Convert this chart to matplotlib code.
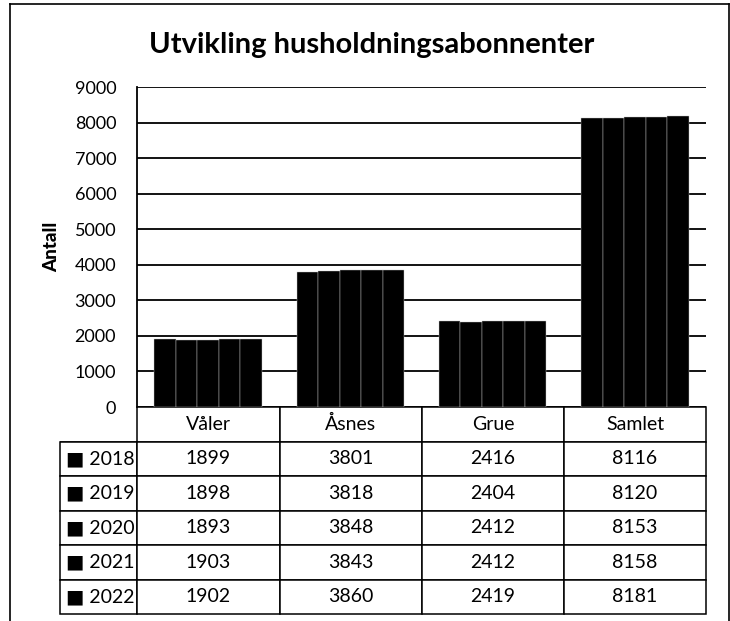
import numpy as np
import matplotlib.pyplot as plt
from matplotlib.lines import Line2D
from matplotlib.table import Table

plt.rcParams['font.family'] = ['Lato', 'DejaVu Sans']

kommuner = ['Våler', 'Åsnes', 'Grue', 'Samlet']
aar = ['2018', '2019', '2020', '2021', '2022']
v2018 = [1899, 3801, 2416, 8116]
v2019 = [1898, 3818, 2404, 8120]
v2020 = [1893, 3848, 2412, 8153]
v2021 = [1903, 3843, 2412, 8158]
v2022 = [1902, 3860, 2419, 8181]
serier = [v2018, v2019, v2020, v2021, v2022]

W, H = 730, 621
fig = plt.figure(figsize=(W / 100, H / 100), dpi=100)

# plot area in pixels: x 137..706, y 87..407
x0, x1, ytop, ybot = 137, 706, 87, 407
ax = fig.add_axes([x0 / W, 1 - ybot / H, (x1 - x0) / W, (ybot - ytop) / H])

x = np.arange(len(kommuner))
bw = 0.151
for i, vals in enumerate(serier):
    ax.bar(x + (i - 2) * bw, vals, width=bw, color='black',
           edgecolor='#c8c8c8', linewidth=0.3)

ax.set_xlim(-0.5, len(kommuner) - 0.5)
ax.set_ylim(0, 9000)
ax.set_yticks(range(0, 9001, 1000))
ax.yaxis.grid(True, color='black', linewidth=1.3)
ax.set_axisbelow(True)
ax.tick_params(axis='y', length=0, pad=15, labelsize=13)
ax.set_xticks([])
for s in ['top', 'right', 'bottom']:
    ax.spines[s].set_visible(False)
ax.spines['left'].set_linewidth(1.3)
ax.set_ylabel('Antall', fontsize=13.5, fontweight='black', labelpad=10)

# data table under the bars
col_w = [77, 143, 142, 142, 142]
tab_left, tab_bot = 60, 614
tbl = Table(ax, bbox=[(tab_left - x0) / (x1 - x0), -(tab_bot - ybot) / (ybot - ytop),
                      (x1 - tab_left) / (x1 - x0), (tab_bot - ybot) / (ybot - ytop)])
corner = tbl.add_cell(0, 0, col_w[0], 1, text='')
corner.visible_edges = 'B'
for j, k in enumerate(kommuner):
    tbl.add_cell(0, j + 1, col_w[j + 1], 1, text=k, loc='center')
for i, (a, vals) in enumerate(zip(aar, serier)):
    tbl.add_cell(i + 1, 0, col_w[0], 1, text='\u25a0 ' + a, loc='left')
    for j, v in enumerate(vals):
        tbl.add_cell(i + 1, j + 1, col_w[j + 1], 1, text=str(v), loc='center')
tbl.auto_set_font_size(False)
tbl.set_fontsize(14)
for cell in tbl.get_celld().values():
    cell.set_linewidth(1.1)
    cell.set_edgecolor('black')
    cell.PAD = 0.08
ax.add_table(tbl)

fig.suptitle('Utvikling husholdningsabonnenter', x=372 / W, y=1 - 45 / H,
             va='center', fontsize=21, fontweight='bold')

# outer frame
frame = dict(transform=fig.transFigure, color='black', linewidth=1.2)
fig.add_artist(Line2D([10 / W, 10 / W], [0, 1 - 4 / H], **frame))
fig.add_artist(Line2D([10 / W, 729 / W], [1 - 4 / H, 1 - 4 / H], **frame))
fig.add_artist(Line2D([729 / W, 729 / W], [0, 1 - 4 / H], **frame))

fig.savefig('out.png', dpi=100)
